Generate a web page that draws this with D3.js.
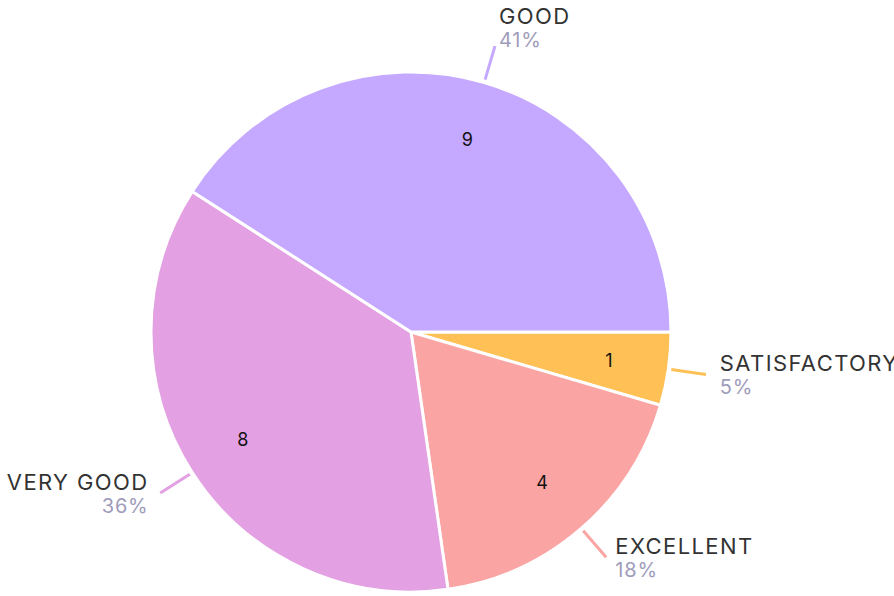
<!DOCTYPE html>
<html>
<head>
<meta charset="utf-8">
<script src="https://cdn.jsdelivr.net/npm/d3@7"></script>
<style>
  body { margin: 0; background: #fff; }
  text { font-family: Inter, "Liberation Sans", sans-serif; }
</style>
</head>
<body>
<svg></svg>
<script>
// categories and counts, in drawing order (clockwise from 3 o'clock)
var categories = ["SATISFACTORY", "EXCELLENT", "VERY GOOD", "GOOD"];
var counts = [1, 4, 8, 9];
var percents = ["5%", "18%", "36%", "41%"];
var colors = ["#ffc156", "#fba4a4", "#e3a0e2", "#c5a8ff"];

var svgWidth = 894, svgHeight = 596;
var cx = 411, cy = 332, radius = 260;

var svg = d3.select("svg")
    .attr("width", svgWidth)
    .attr("height", svgHeight);

var g = svg.append("g")
    .attr("transform", "translate(" + cx + "," + cy + ")");

var data = categories.map(function(c, i) {
  return { name: c, value: counts[i], pct: percents[i], color: colors[i] };
});

//pie starts at 3 o'clock and goes clockwise
var pie = d3.pie()
    .value(function(d) { return d.value; })
    .sort(null)
    .startAngle(Math.PI / 2)
    .endAngle(Math.PI / 2 + 2 * Math.PI);

var arcs = pie(data);

var arc = d3.arc().innerRadius(0).outerRadius(radius);
var numArc = d3.arc().innerRadius(200).outerRadius(200);

g.selectAll("path.slice")
    .data(arcs)
    .enter().append("path")
    .attr("class", "slice")
    .attr("d", arc)
    .attr("fill", function(d) { return d.data.color; })
    .attr("stroke", "#fff")
    .attr("stroke-width", 3);

//numbers inside slices
g.selectAll("text.num")
    .data(arcs)
    .enter().append("text")
    .attr("class", "num")
    .attr("transform", function(d) { return "translate(" + numArc.centroid(d) + ")"; })
    .attr("text-anchor", "middle")
    .attr("dy", "0.35em")
    .attr("font-size", 18)
    .attr("fill", "#111")
    .text(function(d) { return d.data.value; });

function mid(d) { return (d.startAngle + d.endAngle) / 2; }
function pt(d, r) {
  var a = mid(d);
  return [Math.sin(a) * r, -Math.cos(a) * r];
}

//leader lines
g.selectAll("line.lead")
    .data(arcs)
    .enter().append("line")
    .attr("class", "lead")
    .attr("x1", function(d) { return pt(d, radius + 3)[0]; })
    .attr("y1", function(d) { return pt(d, radius + 3)[1]; })
    .attr("x2", function(d) { return pt(d, radius + 38)[0]; })
    .attr("y2", function(d) { return pt(d, radius + 38)[1]; })
    .attr("stroke", function(d) { return d.data.color; })
    .attr("stroke-width", 3);

//outside labels
var labels = g.selectAll("g.label")
    .data(arcs)
    .enter().append("g")
    .attr("class", "label")
    .attr("transform", function(d) {
      var x = pt(d, radius + 52)[0];
      var y = pt(d, radius + 38)[1];
      var up = -Math.cos(mid(d)) < -0.8 ? -20 : -1;
      return "translate(" + x + "," + (y + up) + ")";
    })
    .attr("text-anchor", function(d) { return Math.sin(mid(d)) >= 0 ? "start" : "end"; });

labels.append("text")
    .attr("y", -2)
    .attr("font-size", 22)
    .attr("letter-spacing", 1.4)
    .attr("fill", "#333")
    .text(function(d) { return d.data.name; });

labels.append("text")
    .attr("y", 21)
    .attr("font-size", 20)
    .attr("letter-spacing", 0.8)
    .attr("fill", "#a09cbb")
    .text(function(d) { return d.data.pct; });
</script>
</body>
</html>
